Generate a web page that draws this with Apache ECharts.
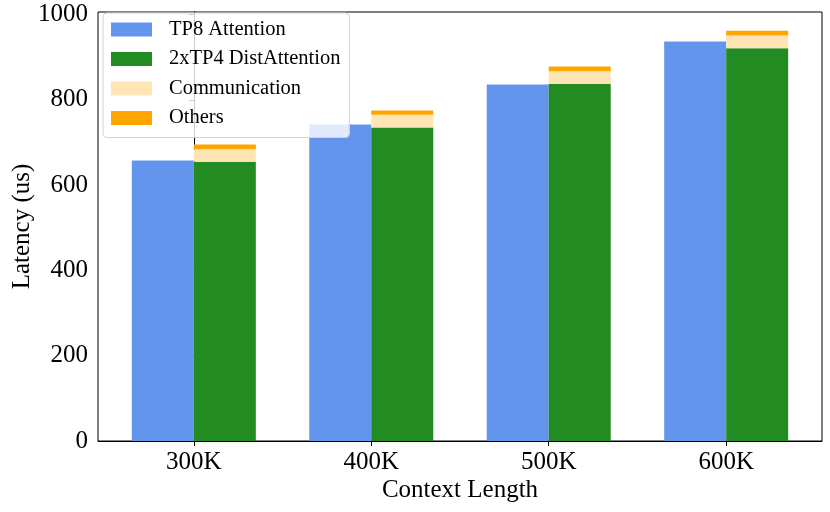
<!DOCTYPE html>
<html>
<head>
<meta charset="utf-8">
<script src="https://cdn.jsdelivr.net/npm/echarts@6/dist/echarts.min.js"></script>
<style>
  html, body { margin: 0; padding: 0; background: #fff; }
  #main { width: 830px; height: 512px; }
</style>
</head>
<body>
<div id="main"></div>
<script>
var myChart = echarts.init(document.getElementById('main'));

var categories = ['300K', '400K', '500K', '600K'];
var tp8Attention = [658, 742, 836, 937];
var distAttention = [655, 735, 838, 921];
var communication = [29, 30, 29, 30];
var others = [11, 10, 11, 11];
var yTicks = [0, 200, 400, 600, 800, 1000];

var font = 'Liberation Serif';

// bars sit on a value axis so the x range can match matplotlib's margins.
// value first, position second: the stack then runs on the y dimension
var toPoints = function (values) {
    var res = [];
    for (var i = 0; i < values.length; i++) {
        res.push([values[i], i]);
    }
    return res;
};

var barSeries = function (name, stack, values, color) {
    return {
        name: name,
        type: 'bar',
        stack: stack,
        barWidth: 62,
        barGap: '0%',
        encode: { x: 1, y: 0 },
        data: toPoints(values),
        itemStyle: { color: color }
    };
};

option = {
    backgroundColor: '#fff',
    animation: false,
    textStyle: { fontFamily: font },
    grid: {
        left: 98,
        right: 8,
        top: 12,
        bottom: 71,
        outerBoundsMode: 'none',
        containLabel: false,
        show: true,
        borderColor: '#000',
        borderWidth: 1,
        backgroundColor: 'transparent'
    },
    legend: {
        orient: 'vertical',
        left: 103,
        top: 13,
        icon: 'rect',
        itemWidth: 41,
        itemHeight: 14,
        itemGap: 8.5,
        padding: [6, 9, 9, 8],
        backgroundColor: 'rgba(255,255,255,0.8)',
        borderColor: '#d4d4d4',
        borderWidth: 1,
        borderRadius: 4,
        textStyle: {
            fontFamily: font,
            fontSize: 20.5,
            color: '#000',
            padding: [0, 0, 0, 12]
        },
        data: ['TP8 Attention', '2xTP4 DistAttention', 'Communication', 'Others']
    },
    xAxis: {
        type: 'value',
        min: -0.54,
        max: 3.54,
        name: 'Context Length',
        nameLocation: 'middle',
        nameGap: 37,
        nameMoveOverlap: false,
        nameTextStyle: { fontFamily: font, fontSize: 25, color: '#000' },
        axisLine: { show: true, lineStyle: { color: '#000', width: 1 } },
        axisTick: {
            show: true,
            inside: false,
            length: 5,
            customValues: [0, 1, 2, 3],
            lineStyle: { color: '#000' }
        },
        axisLabel: {
            customValues: [0, 1, 2, 3],
            margin: 9,
            fontFamily: font,
            fontSize: 25,
            color: '#000',
            formatter: function (v) { return categories[Math.round(v)]; }
        },
        splitLine: { show: false }
    },
    yAxis: {
        type: 'value',
        min: 0,
        max: 1006,
        name: 'Latency (us)',
        nameLocation: 'middle',
        nameGap: 63,
        nameMoveOverlap: false,
        nameTextStyle: { fontFamily: font, fontSize: 25, color: '#000' },
        axisLine: { show: true, lineStyle: { color: '#000', width: 1 } },
        axisTick: {
            show: true,
            length: 5,
            customValues: yTicks,
            lineStyle: { color: '#000' }
        },
        axisLabel: {
            customValues: yTicks,
            margin: 10,
            fontFamily: font,
            fontSize: 25,
            color: '#000',
            formatter: function (v) { return String(v); }
        },
        splitLine: { show: false }
    },
    series: [
        barSeries('TP8 Attention', 'tp8', tp8Attention, '#6495ED'),
        barSeries('2xTP4 DistAttention', 'dist', distAttention, '#228B22'),
        barSeries('Communication', 'dist', communication, '#FFE4B5'),
        barSeries('Others', 'dist', others, '#FFA500')
    ]
};

myChart.setOption(option);
</script>
</body>
</html>
